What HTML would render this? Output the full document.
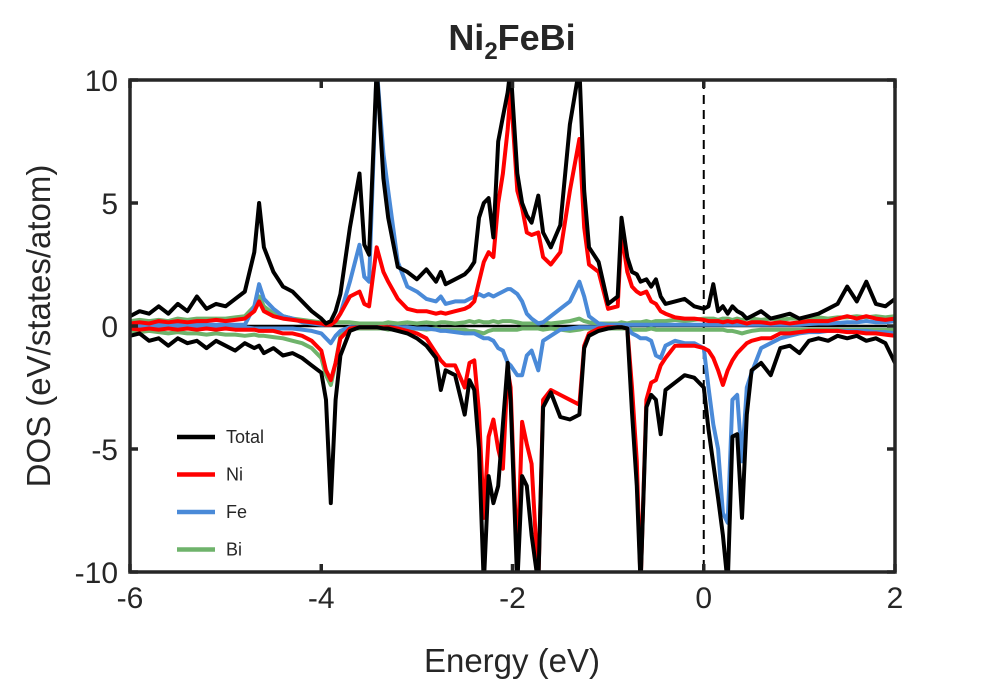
<!DOCTYPE html>
<html><head><meta charset="utf-8"><style>
body{margin:0;background:#fff}
svg text{font-family:"Liberation Sans",Arial,sans-serif;fill:#262626}
</style></head><body>
<svg id="chart" width="989" height="685" viewBox="0 0 989 685" xmlns="http://www.w3.org/2000/svg">
<defs><clipPath id="clip"><rect x="130" y="80" width="765" height="492"/></clipPath></defs>
<rect width="989" height="685" fill="#fff"/>
<text x="512" y="50" font-size="36" font-weight="bold" text-anchor="middle">Ni<tspan font-size="24" dy="9">2</tspan><tspan dy="-9">FeBi</tspan></text>
<g id="plot" clip-path="url(#clip)"></g>
<g id="axes"></g>
<text x="512" y="672" font-size="33" text-anchor="middle">Energy (eV)</text>
<text transform="translate(50,326) rotate(-90)" font-size="33" text-anchor="middle">DOS (eV/states/atom)</text>
<g id="legend"></g>
</svg>
<script>
const energy=[-6.0,-5.9,-5.8,-5.7,-5.6,-5.5,-5.4,-5.3,-5.2,-5.1,-5.0,-4.9,-4.8,
-4.7,-4.65,-4.6,-4.5,-4.4,-4.3,-4.2,-4.1,
-4.0,-3.95,-3.9,-3.85,-3.8,-3.7,-3.6,-3.55,-3.5,-3.42,
-3.35,-3.3,-3.2,-3.1,-3.0,-2.9,-2.8,-2.75,-2.7,-2.6,
-2.5,-2.45,-2.4,-2.35,-2.3,-2.25,-2.2,-2.15,-2.1,-2.05,
-2.02,-1.95,-1.9,-1.85,-1.8,-1.73,-1.68,-1.6,-1.5,-1.4,
-1.3,-1.25,-1.2,-1.1,-1.0,-0.9,-0.86,-0.8,-0.75,-0.7,
-0.66,-0.6,-0.55,-0.5,-0.45,-0.4,-0.3,-0.2,-0.1,0,
0.05,0.1,0.15,0.2,0.25,0.3,0.35,0.4,0.45,0.5,
0.6,0.7,0.8,0.9,1.0,1.1,1.2,1.3,1.4,1.5,
1.6,1.7,1.8,1.9,2.0];
const totalUp=[0.4,0.6,0.5,0.8,0.5,0.9,0.6,1.2,0.7,0.9,0.8,1.1,1.4,
3.0,5.0,3.2,2.2,1.6,1.4,1.0,0.6,
0.3,0.1,0.2,0.6,1.3,4.0,6.2,3.3,2.9,10.5,
6.0,4.4,2.4,2.2,1.9,2.3,1.8,2.2,1.7,1.9,
2.1,2.3,2.6,4.4,5.0,5.2,3.6,7.5,8.5,9.5,
10.5,6.2,5.0,4.5,4.2,5.3,3.8,3.2,4.1,8.2,
10.5,5.5,3.2,2.6,0.9,1.2,4.4,2.8,2.2,2.1,
1.8,1.9,1.6,1.9,1.2,0.9,1.0,1.1,0.8,0.7,
0.8,1.7,0.6,0.8,0.5,0.8,0.6,0.5,0.3,0.4,
0.6,0.3,0.4,0.5,0.3,0.4,0.5,0.7,0.9,1.6,
1.0,1.8,0.9,0.8,1.1];
const niUp=[0.1,0.15,0.1,0.2,0.15,0.2,0.15,0.2,0.2,0.25,0.2,0.25,0.3,
0.6,1.0,0.6,0.4,0.3,0.25,0.2,0.15,
0.1,0.05,0.05,0.2,0.5,1.2,1.4,0.9,0.8,3.2,
2.2,1.8,1.1,0.7,0.6,0.6,0.5,0.55,0.5,0.6,
0.7,0.8,1.0,1.8,2.6,3.0,2.8,5.0,6.2,8.0,
9.6,5.5,4.8,3.8,3.7,3.8,2.8,2.5,3.0,5.5,
7.6,4.0,2.5,2.2,0.7,0.8,3.8,2.2,1.6,1.4,
1.3,1.4,1.0,0.9,0.6,0.5,0.35,0.3,0.3,0.25,
0.2,0.2,0.2,0.15,0.2,0.15,0.2,0.15,0.1,0.15,
0.15,0.1,0.15,0.1,0.15,0.2,0.2,0.2,0.3,0.4,
0.3,0.4,0.3,0.25,0.3];
const feUp=[0.05,0.05,0.05,0.05,0.05,0.05,0.05,0.05,0.05,0.05,0.05,0.05,0.05,
0.8,1.7,1.1,0.7,0.4,0.3,0.15,0.1,
0.05,0.05,0.05,0.2,0.5,1.8,3.3,2.0,1.8,10.5,
7.0,5.5,2.6,1.6,1.4,1.1,1.0,1.2,0.9,1.0,
1.0,1.1,1.2,1.3,1.2,1.3,1.2,1.3,1.4,1.5,
1.5,1.3,1.0,0.5,0.3,0.1,0.15,0.4,0.7,1.0,
1.8,1.2,0.4,0.1,0.05,0.05,0.05,0.05,0.05,0.05,
0.05,0.05,0.05,0.05,0.05,0.05,0.05,0.05,0.05,0.05,
0.05,0.05,0.05,0.05,0.05,0.05,0.05,0.05,0.05,0.05,
0.05,0.05,0.05,0.05,0.05,0.08,0.1,0.1,0.12,0.15,
0.15,0.2,0.15,0.15,0.2];
const biUp=[0.2,0.25,0.2,0.25,0.2,0.3,0.25,0.3,0.3,0.3,0.3,0.35,0.4,
0.8,1.2,0.8,0.5,0.4,0.3,0.25,0.2,
0.15,0.1,0.1,0.15,0.15,0.15,0.1,0.1,0.1,0.1,
0.1,0.15,0.1,0.15,0.1,0.15,0.1,0.15,0.15,0.1,
0.15,0.2,0.15,0.2,0.15,0.15,0.2,0.15,0.2,0.2,
0.2,0.15,0.1,0.1,0.1,0.1,0.15,0.1,0.15,0.2,
0.3,0.2,0.15,0.1,0.1,0.1,0.15,0.1,0.15,0.15,
0.15,0.2,0.15,0.2,0.2,0.2,0.25,0.2,0.25,0.3,
0.3,0.3,0.25,0.3,0.3,0.25,0.3,0.25,0.3,0.3,
0.25,0.3,0.25,0.3,0.3,0.3,0.35,0.3,0.35,0.35,
0.4,0.35,0.4,0.35,0.4];
const totalDown=[-0.4,-0.3,-0.6,-0.5,-0.8,-0.5,-0.7,-0.6,-0.9,-0.6,-0.8,-1.0,-0.7,
-0.9,-0.8,-1.1,-0.9,-1.2,-1.1,-1.3,-1.6,
-1.9,-3.0,-7.2,-3.0,-1.2,-0.2,-0.05,-0.05,-0.05,-0.05,
-0.1,-0.1,-0.2,-0.3,-0.5,-0.8,-1.3,-2.6,-1.8,-2.0,
-3.6,-2.2,-2.6,-5,-10.5,-6.1,-7.2,-6.5,-4,-1.5,
-3,-10.5,-6.1,-6.5,-8.5,-10.5,-3.3,-2.7,-3.7,-3.8,
-3.6,-0.9,-0.4,-0.2,-0.1,-0.05,-0.05,-0.1,-3.5,-6.5,
-10.5,-3.3,-2.8,-3.0,-4.4,-2.6,-2.3,-2.0,-2.1,-2.5,
-4.2,-5.6,-7,-8.5,-10.5,-4.5,-4.4,-7.8,-3.6,-1.8,
-1.5,-2.0,-0.9,-0.8,-1.1,-0.6,-0.5,-0.6,-0.4,-0.5,
-0.4,-0.6,-0.5,-0.7,-1.5];
const niDown=[-0.1,-0.15,-0.1,-0.15,-0.1,-0.15,-0.1,-0.15,-0.1,-0.15,-0.1,-0.15,-0.15,
-0.15,-0.2,-0.2,-0.2,-0.3,-0.3,-0.4,-0.6,
-1.0,-1.8,-2.2,-1.5,-0.5,-0.1,-0.05,-0.05,-0.05,-0.05,
-0.05,-0.05,-0.1,-0.2,-0.3,-0.5,-1.1,-1.4,-1.6,-1.6,
-2.5,-1.5,-1.4,-3.5,-7.8,-4.5,-3.8,-5.0,-5.8,-1.8,
-2.5,-9.8,-3.9,-4.8,-5.6,-10.5,-3.0,-2.6,-2.8,-3.0,
-3.2,-0.8,-0.3,-0.1,-0.05,-0.05,-0.05,-0.1,-2.5,-5.5,
-10.5,-3.0,-2.3,-2.2,-1.6,-1.3,-0.8,-0.8,-0.8,-0.9,
-1.0,-1.3,-1.8,-2.4,-1.8,-1.4,-1.1,-0.9,-0.7,-0.6,
-0.5,-0.5,-0.3,-0.3,-0.25,-0.2,-0.2,-0.2,-0.2,-0.25,
-0.25,-0.3,-0.3,-0.35,-0.4];
const feDown=[-0.05,-0.05,-0.05,-0.05,-0.05,-0.05,-0.05,-0.05,-0.05,-0.05,-0.05,-0.05,-0.05,
-0.1,-0.1,-0.1,-0.1,-0.1,-0.1,-0.15,-0.2,
-0.3,-0.5,-0.7,-0.4,-0.2,-0.05,-0.05,-0.05,-0.05,-0.05,
-0.05,-0.05,-0.05,-0.05,-0.1,-0.1,-0.15,-0.2,-0.2,-0.25,
-0.3,-0.3,-0.3,-0.4,-0.5,-0.5,-0.6,-0.9,-1.0,-1.5,
-1.6,-2.0,-2.0,-1.2,-1.0,-1.8,-0.6,-0.4,-0.15,-0.1,
-0.05,-0.05,-0.05,-0.05,-0.05,-0.05,-0.05,-0.05,-0.3,-0.4,
-0.5,-0.5,-0.6,-1.2,-1.3,-0.8,-0.6,-0.7,-0.7,-0.9,
-2.5,-4.0,-5.0,-7.6,-8.0,-3.0,-2.8,-5.5,-2.5,-1.9,
-0.9,-0.7,-0.5,-0.4,-0.3,-0.25,-0.25,-0.2,-0.2,-0.2,
-0.2,-0.2,-0.25,-0.25,-0.3];
const biDown=[-0.2,-0.25,-0.2,-0.25,-0.3,-0.25,-0.3,-0.3,-0.35,-0.3,-0.35,-0.35,-0.4,
-0.35,-0.4,-0.4,-0.45,-0.5,-0.6,-0.7,-0.9,
-1.3,-2.0,-2.4,-1.5,-0.4,-0.1,-0.1,-0.1,-0.1,-0.1,
-0.1,-0.15,-0.1,-0.15,-0.1,-0.15,-0.1,-0.15,-0.15,-0.15,
-0.15,-0.2,-0.2,-0.25,-0.3,-0.2,-0.15,-0.15,-0.15,-0.15,
-0.15,-0.15,-0.1,-0.1,-0.1,-0.1,-0.15,-0.1,-0.15,-0.2,
-0.15,-0.1,-0.1,-0.1,-0.1,-0.1,-0.1,-0.1,-0.15,-0.15,
-0.15,-0.15,-0.1,-0.15,-0.15,-0.15,-0.15,-0.15,-0.15,-0.15,
-0.15,-0.15,-0.15,-0.15,-0.2,-0.2,-0.25,-0.3,-0.25,-0.2,
-0.15,-0.15,-0.15,-0.15,-0.15,-0.15,-0.15,-0.15,-0.15,-0.15,
-0.15,-0.15,-0.15,-0.15,-0.15];
const xTicks=[-6,-4,-2,0,2];
const yTicks=[-10,-5,0,5,10];
const legendLabels=["Total","Ni","Fe","Bi"];

const X0=130,X1=895,Y0=572,Y1=80;
function xs(v){return X0+(v+6)/8*(X1-X0);}
function ys(v){return Y0-(v+10)/20*(Y0-Y1);}
const NS="http://www.w3.org/2000/svg";
function mk(tag,attrs,parent){const e=document.createElementNS(NS,tag);for(const k in attrs)e.setAttribute(k,attrs[k]);parent.appendChild(e);return e;}
const plot=document.getElementById('plot'),axes=document.getElementById('axes'),legend=document.getElementById('legend');

const series=[
 {name:'bi',col:'#6fb36b',up:biUp,dn:biDown},
 {name:'fe',col:'#4a8ad8',up:feUp,dn:feDown},
 {name:'ni',col:'#ff0000',up:niUp,dn:niDown},
 {name:'total',col:'#000000',up:totalUp,dn:totalDown}];
const zl=mk('line',{x1:X0,x2:X1,y1:ys(0),y2:ys(0),stroke:'#000','stroke-width':2.5},plot);


const fl=mk('line',{x1:xs(0),x2:xs(0),y1:Y1,y2:Y0,stroke:'#000','stroke-width':2,'stroke-dasharray':'9,6'},plot);


series.forEach(s=>{
 ['up','dn'].forEach(k=>{
  const d=s[k].map((v,i)=>(i?'L':'M')+xs(energy[i]).toFixed(1)+','+ys(v).toFixed(1)).join(' ');
  const p=mk('path',{d:d,fill:'none',stroke:s.col,'stroke-width':4,'stroke-linejoin':'round'},plot);
  
  
 });
});
const box=mk('rect',{x:X0,y:Y1,width:X1-X0,height:Y0-Y1,fill:'none',stroke:'#262626','stroke-width':3.5},axes);


xTicks.forEach(t=>{
 const x=xs(t);
 mk('line',{x1:x,x2:x,y1:Y0,y2:Y0-8,stroke:'#262626','stroke-width':3.5},axes);
 mk('line',{x1:x,x2:x,y1:Y1,y2:Y1+8,stroke:'#262626','stroke-width':3.5},axes);
 const tx=mk('text',{x:x,y:Y0+36,'font-size':30,'text-anchor':'middle'},axes);
 tx.textContent=t;
 
 
});
yTicks.forEach(t=>{
 const y=ys(t);
 mk('line',{x1:X0,x2:X0+8,y1:y,y2:y,stroke:'#262626','stroke-width':3.5},axes);
 mk('line',{x1:X1,x2:X1-8,y1:y,y2:y,stroke:'#262626','stroke-width':3.5},axes);
 const tx=mk('text',{x:X0-12,y:y+11,'font-size':30,'text-anchor':'end'},axes);
 tx.textContent=t;
 
 
});
const lcol=['#000000','#ff0000','#4a8ad8','#6fb36b'];
legendLabels.forEach((l,i)=>{
 const y=437+i*37.5;
 const g=mk('g',{},legend);
 
 
 mk('line',{x1:177,x2:215,y1:y,y2:y,stroke:lcol[i],'stroke-width':4.5},g);
 const t=mk('text',{x:226,y:y+6,'font-size':18},g);
 t.textContent=l;
});
</script>
</body></html>
